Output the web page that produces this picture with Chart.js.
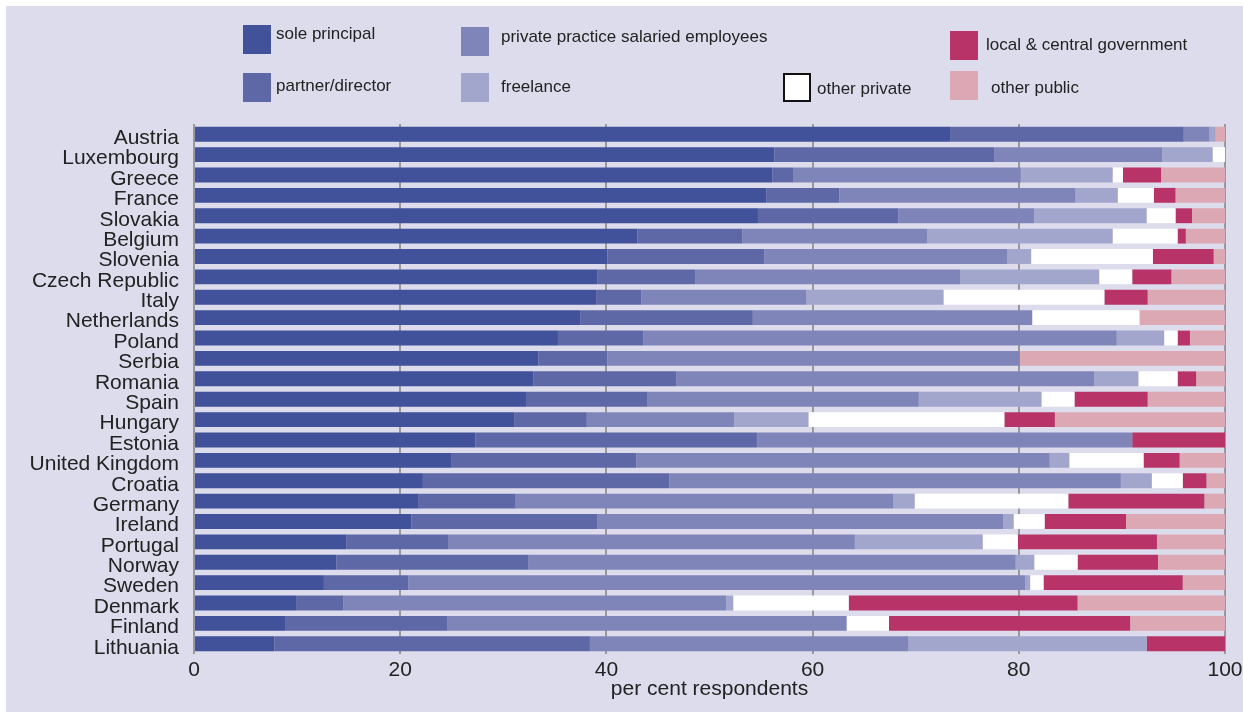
<!DOCTYPE html>
<html>
<head>
<meta charset="utf-8">
<script src="https://cdn.jsdelivr.net/npm/chart.js@4/dist/chart.umd.min.js"></script>
<style>
  body { margin: 0; background: #fff; }
  #frame { position: absolute; left: 6px; top: 6px; width: 1237px; height: 706px; background: #dcdcec; }
  #chart { position: absolute; left: 0; top: 0; }
  .lg { position: absolute; font: 17px "Liberation Sans", Arial, sans-serif; color: #222; white-space: nowrap; }
  .sw { position: absolute; width: 28px; height: 29px; box-sizing: border-box; }
</style>
</head>
<body>
<div id="frame"></div>
<canvas id="chart" width="1243" height="713"></canvas>

<div class="sw" style="left:243px;top:25px;background:#41519a"></div>
<div class="lg" style="left:276px;top:24px">sole principal</div>
<div class="sw" style="left:243px;top:73px;background:#5f68a6"></div>
<div class="lg" style="left:276px;top:76px">partner/director</div>
<div class="sw" style="left:461px;top:27px;background:#8085b9"></div>
<div class="lg" style="left:501px;top:27px">private practice salaried employees</div>
<div class="sw" style="left:461px;top:73px;background:#a3a6cc"></div>
<div class="lg" style="left:501px;top:77px">freelance</div>
<div class="sw" style="left:783px;top:73px;background:#fff;border:2px solid #111"></div>
<div class="lg" style="left:817px;top:79px">other private</div>
<div class="sw" style="left:950px;top:31px;background:#b73368"></div>
<div class="lg" style="left:986px;top:35px">local &amp; central government</div>
<div class="sw" style="left:950px;top:71px;background:#dca8b3"></div>
<div class="lg" style="left:991px;top:78px">other public</div>

<script>
document.addEventListener("DOMContentLoaded", function () {
  const textColor = '#222';

  const countries = ['Austria', 'Luxembourg', 'Greece', 'France', 'Slovakia', 'Belgium', 'Slovenia',
    'Czech Republic', 'Italy', 'Netherlands', 'Poland', 'Serbia', 'Romania', 'Spain', 'Hungary',
    'Estonia', 'United Kingdom', 'Croatia', 'Germany', 'Ireland', 'Portugal', 'Norway', 'Sweden',
    'Denmark', 'Finland', 'Lithuania'];

  const solePrincipal   = [73.4, 56.3, 56.1, 55.5, 54.7, 43.0, 40.1, 39.1, 39.0, 37.5, 35.3, 33.4, 32.9, 32.2, 31.1, 27.3, 25.0, 22.2, 21.8, 21.1, 14.8, 13.8, 12.6, 9.9, 8.9, 7.8];
  const partnerDirector = [22.6, 21.3, 2.0, 7.1, 13.6, 10.2, 15.2, 9.5, 4.4, 16.7, 8.3, 6.7, 13.9, 11.8, 7.0, 27.3, 17.9, 23.9, 9.4, 18.0, 9.9, 18.6, 8.2, 4.6, 15.7, 30.6];
  const salaried        = [2.5, 16.3, 22.1, 22.9, 13.2, 17.9, 23.6, 25.7, 16.0, 27.1, 45.9, 40.0, 40.5, 26.3, 14.3, 36.4, 40.1, 43.8, 36.6, 39.4, 39.4, 47.3, 59.8, 37.1, 38.7, 30.9];
  const freelance       = [0.6, 4.9, 8.9, 4.1, 10.9, 18.0, 2.3, 13.5, 13.3, 0, 4.6, 0, 4.3, 11.9, 7.2, 0, 1.9, 3.0, 2.1, 1.0, 12.4, 1.8, 0.5, 0.7, 0, 23.1];
  const otherPrivate    = [0, 1.2, 1.0, 3.5, 2.8, 6.3, 11.8, 3.2, 15.6, 10.4, 1.3, 0, 3.8, 3.2, 19.0, 0, 7.2, 3.0, 14.9, 3.0, 3.4, 4.2, 1.3, 11.2, 4.1, 0];
  const localGov        = [0, 0, 3.7, 2.1, 1.6, 0.8, 5.9, 3.8, 4.2, 0, 1.2, 0, 1.8, 7.1, 4.9, 9.0, 3.5, 2.3, 13.2, 7.9, 13.5, 7.8, 13.5, 22.2, 23.4, 7.6];
  const otherPublic     = [0.9, 0, 6.2, 4.8, 3.2, 3.8, 1.1, 5.2, 7.5, 8.3, 3.4, 19.9, 2.8, 7.5, 16.5, 0, 4.4, 1.8, 2.0, 9.6, 6.6, 6.5, 4.1, 14.3, 9.2, 0];

  const xTicks = [0, 20, 40, 60, 80, 100];

  const ctx = document.getElementById('chart').getContext('2d');
  Chart.defaults.font.family = '"Liberation Sans", Arial, sans-serif';

  new Chart(ctx, {
    type: 'bar',
    data: {
      labels: countries,
      datasets: [
        { label: 'sole principal', data: solePrincipal, backgroundColor: '#41519a' },
        { label: 'partner/director', data: partnerDirector, backgroundColor: '#5f68a6' },
        { label: 'private practice salaried employees', data: salaried, backgroundColor: '#8085b9' },
        { label: 'freelance', data: freelance, backgroundColor: '#a3a6cc' },
        { label: 'other private', data: otherPrivate, backgroundColor: '#ffffff' },
        { label: 'local & central government', data: localGov, backgroundColor: '#b73368' },
        { label: 'other public', data: otherPublic, backgroundColor: '#dca8b3' }
      ]
    },
    options: {
      indexAxis: 'y',
      responsive: false,
      animation: false,
      layout: { padding: { top: 124, right: 18, left: 0, bottom: 0 } },
      datasets: { bar: { barPercentage: 1, categoryPercentage: 0.73 } },
      plugins: {
        legend: { display: false },
        tooltip: { enabled: false }
      },
      scales: {
        x: {
          stacked: true,
          min: 0,
          max: 100,
          afterBuildTicks: (s) => { s.ticks = xTicks.map(v => ({ value: v })); },
          afterFit: (s) => { s.height = 59; s.paddingLeft = 0; s.paddingRight = 0; },
          ticks: { color: textColor, font: { size: 21 }, padding: 4 },
          grid: { color: '#999999', lineWidth: 2, drawTicks: false },
          border: { display: false },
          title: {
            display: true,
            text: 'per cent respondents',
            color: textColor,
            font: { size: 21 },
            padding: { top: 0, bottom: 11 }
          }
        },
        y: {
          stacked: true,
          afterFit: (s) => { s.width = 194; s.paddingTop = 0; s.paddingBottom = 0; },
          ticks: { color: textColor, font: { size: 21 }, padding: 15, autoSkip: false, labelOffset: 4 },
          grid: { display: false, drawTicks: false },
          border: { display: false }
        }
      }
    }
  });
});
</script>
</body>
</html>
